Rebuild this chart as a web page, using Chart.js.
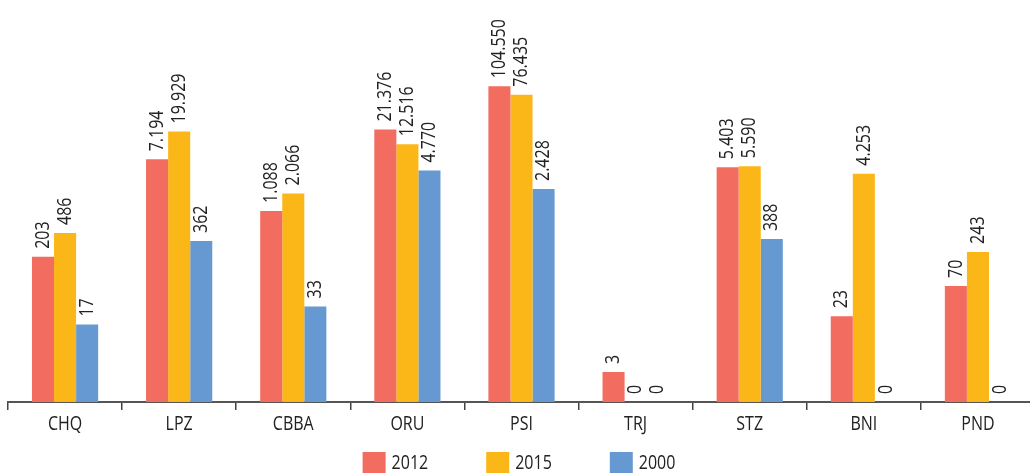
<!DOCTYPE html>
<html>
<head>
<meta charset="utf-8">
<script src="https://cdn.jsdelivr.net/npm/chart.js@4.4.1/dist/chart.umd.min.js"></script>
<style>
    html, body { margin: 0; padding: 0; background: #fff; overflow: hidden; }
    #wrap { position: relative; width: 1040px; height: 473px; }
</style>
</head>
<body>
<div id="wrap"><canvas id="chart"></canvas></div>
<script>
// Dữ liệu
var categories = ['CHQ', 'LPZ', 'CBBA', 'ORU', 'PSI', 'TRJ', 'STZ', 'BNI', 'PND']
var seriesNames = ['2012', '2015', '2000']
var values2012 = [203, 7194, 1088, 21376, 104550, 3, 5403, 23, 70]
var values2015 = [486, 19929, 2066, 12516, 76435, 0, 5590, 4253, 243]
var values2000 = [17, 362, 33, 4770, 2428, 0, 388, 0, 0]
var colorList = ['#F36C60', '#FBB717', '#6699D2']

// không có font hẹp nên ép ngang Open Sans
var fontFamily = "'Open Sans', sans-serif"
var textFont = '20px ' + fontFamily
var squeeze = 0.8
var textColor = '#222'

function formatNumber(v) {
    return String(v).replace(/\B(?=(\d{3})+(?!\d))/g, '.')
}

function narrowText(ctx, text, x, y, angle, align) {
    ctx.save()
    ctx.translate(x, y)
    ctx.rotate(angle)
    ctx.scale(squeeze, 1)
    ctx.textAlign = align
    ctx.fillText(text, 0, 0)
    ctx.restore()
}

// nhãn giá trị xoay dọc trên mỗi cột + nhãn trục x
var textLayer = {
    id: 'textLayer',
    afterDatasetsDraw: function (chart) {
        var ctx = chart.ctx
        ctx.save()
        ctx.font = textFont
        ctx.fillStyle = textColor
        ctx.textBaseline = 'middle'
        chart.data.datasets.forEach(function (ds, i) {
            var meta = chart.getDatasetMeta(i)
            meta.data.forEach(function (bar, j) {
                var v = ds.data[j]
                var y = v > 0 ? bar.y : chart.chartArea.bottom
                narrowText(ctx, formatNumber(v), bar.x, y - 8, -Math.PI / 2, 'left')
            })
        })
        var xScale = chart.scales.x
        chart.data.labels.forEach(function (lab, j) {
            narrowText(ctx, lab, xScale.getPixelForTick(j), 424, 0, 'center')
        })
        ctx.restore()
    }
}

// chú thích vẽ tay ở dưới cùng
var bottomLegend = {
    id: 'bottomLegend',
    afterDraw: function (chart) {
        var ctx = chart.ctx
        var boxW = 23, boxH = 21, textGap = 6, itemGap = 58
        ctx.save()
        ctx.font = textFont
        ctx.textBaseline = 'middle'
        var widths = chart.data.datasets.map(function (ds) {
            return boxW + textGap + ctx.measureText(ds.label).width * squeeze
        })
        var total = widths.reduce(function (a, b) { return a + b }, 0) + itemGap * (widths.length - 1)
        var x = 519 - total / 2
        var top = 452
        chart.data.datasets.forEach(function (ds, i) {
            ctx.fillStyle = ds.backgroundColor
            ctx.fillRect(x, top, boxW, boxH)
            ctx.fillStyle = textColor
            narrowText(ctx, ds.label, x + boxW + textGap, top + boxH / 2 + 1, 0, 'left')
            x += widths[i] + itemGap
        })
        ctx.restore()
    }
}

var chart = new Chart(document.getElementById('chart').getContext('2d'), {
    type: 'bar',
    data: {
        labels: categories,
        datasets: [
            { label: seriesNames[0], data: values2012, backgroundColor: colorList[0] },
            { label: seriesNames[1], data: values2015, backgroundColor: colorList[1] },
            { label: seriesNames[2], data: values2000, backgroundColor: colorList[2] }
        ]
    },
    options: {
        responsive: true,
        maintainAspectRatio: false,
        animation: false,
        layout: { padding: { left: 8, right: 5, top: 0, bottom: 63 } },
        datasets: { bar: { categoryPercentage: 0.58, barPercentage: 1 } },
        plugins: {
            legend: { display: false },
            tooltip: { enabled: false }
        },
        scales: {
            x: {
                grid: { display: true, drawOnChartArea: false, drawTicks: true, tickLength: 8, color: '#444', lineWidth: 1.5 },
                border: { display: true, color: '#555', width: 2 },
                ticks: { display: false }
            },
            y: {
                type: 'logarithmic',
                display: false,
                min: 1,
                max: 2450000
            }
        }
    },
    plugins: [textLayer, bottomLegend]
})
</script>
</body>
</html>
